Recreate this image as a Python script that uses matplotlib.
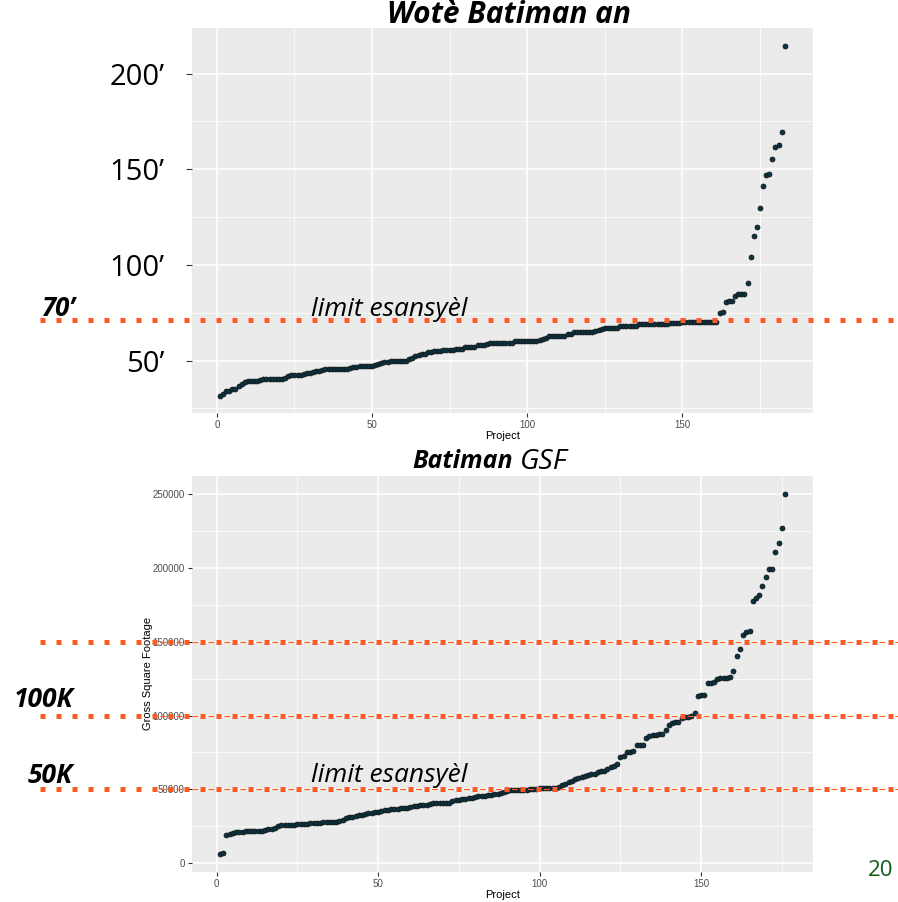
import matplotlib
matplotlib.use('Agg')
import matplotlib.pyplot as plt
import matplotlib.transforms as mtransforms
from matplotlib.ticker import MultipleLocator

plt.rcParams['lines.scale_dashes'] = False
plt.rcParams['font.family'] = ['Liberation Sans', 'DejaVu Sans']

# building height (feet), sorted, one per project
top_heights = [
    31.7, 32.5, 33.8, 34.2, 35.0, 35.3, 36.5, 37.8, 38.8, 39.4,
    39.4, 39.4, 39.4, 39.8, 40.3, 40.3, 40.3, 40.3, 40.3, 40.3,
    40.3, 41.0, 41.8, 42.5, 42.5, 42.5, 42.5, 43.0, 43.3, 43.7,
    44.0, 44.3, 44.7, 45.0, 45.3, 45.3, 45.3, 45.3, 45.3, 45.3,
    45.3, 45.3, 46.0, 46.5, 46.8, 47.3, 47.3, 47.3, 47.3, 47.3,
    47.8, 48.2, 48.8, 49.0, 49.2, 50.0, 50.0, 50.0, 50.0, 50.0,
    50.0, 50.7, 51.5, 52.2, 53.0, 53.5, 53.5, 54.2, 54.2, 55.2,
    55.2, 55.2, 55.5, 55.5, 55.5, 55.5, 56.2, 56.2, 56.2, 56.8,
    57.3, 57.3, 57.3, 58.0, 58.0, 58.0, 58.8, 59.4, 59.4, 59.4,
    59.4, 59.4, 59.4, 59.4, 59.4, 60.1, 60.1, 60.1, 60.1, 60.1,
    60.1, 60.1, 60.1, 60.7, 61.3, 62.0, 62.9, 62.9, 62.9, 62.9,
    62.9, 62.9, 63.8, 63.8, 64.8, 64.8, 64.8, 64.8, 64.8, 64.8,
    64.8, 65.5, 66.0, 66.5, 67.0, 67.0, 67.0, 67.0, 67.0, 68.1,
    68.1, 68.1, 68.1, 68.1, 68.1, 69.2, 69.2, 69.2, 69.2, 69.2,
    69.2, 69.2, 69.2, 69.2, 69.2, 69.7, 69.7, 69.7, 69.7, 70.1,
    70.1, 70.1, 70.1, 70.1, 70.1, 70.1, 70.1, 70.1, 70.1, 70.1,
    70.1, 74.8, 75.1, 80.5, 80.9, 81.1, 83.8, 84.9, 85.0, 85.0,
    90.6, 104.1, 114.9, 119.8, 129.9, 141.5, 146.8, 147.6, 155.6, 161.8,
    162.6, 169.5, 214.7]

# gross square footage, sorted, one per project
gsf = [
    6300, 6800, 18700, 19600, 20200, 20700, 21000, 21200, 21400, 21400,
    21400, 21400, 21400, 22000, 22500, 23000, 23300, 24000, 25000, 25600,
    26000, 26000, 26100, 26100, 26200, 26200, 26300, 26400, 26900, 27100,
    27200, 27300, 27500, 27600, 27700, 27900, 28000, 28200, 29300, 30500,
    30900, 31400, 31800, 32300, 32700, 33500, 33900, 34200, 34500, 34800,
    35200, 35800, 36100, 36300, 36500, 36800, 37000, 37200, 37400, 38000,
    38400, 38700, 39000, 39300, 39500, 40300, 40600, 40700, 40700, 40800,
    40900, 41000, 41800, 42600, 42900, 43200, 43500, 43800, 44000, 44600,
    45100, 45400, 45700, 46000, 46300, 46600, 46900, 47800, 48200, 48700,
    49200, 49300, 49400, 49500, 49700, 49800, 49900, 50000, 50400, 50600,
    50800, 50800, 50800, 50800, 50900, 51500, 53000, 53800, 54600, 55500,
    56900, 57500, 58300, 59300, 59800, 60300, 60600, 61500, 62100, 62300,
    63500, 64800, 66000, 67300, 71800, 72700, 75200, 75600, 76100, 79700,
    79700, 79900, 84700, 85800, 86500, 87000, 87400, 87600, 90300, 93700,
    94800, 95500, 95900, 98200, 98800, 99300, 100000, 102000, 112900, 113800,
    113800, 121900, 122200, 122400, 124900, 125300, 125300, 125500, 126000, 130500,
    140400, 145200, 154900, 156900, 157600, 177900, 179500, 181800, 187700, 194000,
    199200, 199600, 210700, 217200, 227000, 250200]

top_yticks = [50, 100, 150, 200]
top_ylabels = ['50’', '100’', '150’', '200’']
top_limits = [71.3]
top_limit_labels = ['70’']
gsf_limits = [50000, 100000, 150000]
gsf_limit_labels = ['50K', '100K', '']

ORANGE = '#FF5A2A'
POINT = '#0B3341'
OPEN = ['Open Sans', 'DejaVu Sans']

W, H = 898, 902
fig = plt.figure(figsize=(W / 100, H / 100), dpi=100)


def fx(px):
    return px / W


def fy(py):
    return 1 - py / H


def gg_style(ax, n, vals):
    ax.set_facecolor('#EBEBEB')
    for s in ax.spines.values():
        s.set_visible(False)
    ax.xaxis.set_major_locator(MultipleLocator(50))
    ax.xaxis.set_minor_locator(MultipleLocator(25))
    ax.grid(which='major', color='white', lw=1.1)
    ax.grid(which='minor', color='white', lw=0.55)
    ax.set_axisbelow(True)
    ax.tick_params(which='minor', length=0)
    ax.tick_params(which='major', length=3, width=0.8, color='#333333',
                   labelsize=7, labelcolor='#4D4D4D', pad=2)
    ax.set_xlim(1 - 0.05 * (n - 1), n + 0.05 * (n - 1))
    lo, hi = min(vals), max(vals)
    ax.set_ylim(lo - 0.05 * (hi - lo), hi + 0.05 * (hi - lo))
    ax.set_xlabel('Project', fontsize=8, labelpad=1)


# --- top panel: heights ---
ax1 = fig.add_axes([fx(191.7), fy(413), (813 - 191.7) / W, 385 / H])
x1 = list(range(1, len(top_heights) + 1))
gg_style(ax1, len(top_heights), top_heights)
ax1.yaxis.set_minor_locator(MultipleLocator(25))
ax1.set_yticks(top_yticks)
ax1.set_yticklabels(top_ylabels, fontsize=21, color='black', family=OPEN)
ax1.tick_params(axis='y', which='major', length=4, pad=15.5, labelcolor='black')
ax1.scatter(x1, top_heights, s=13, c=POINT, edgecolors='#111111', linewidths=0.5, zorder=3)

# --- bottom panel: GSF ---
ax2 = fig.add_axes([fx(191.7), fy(871.7), (813.3 - 191.7) / W, 395.7 / H])
x2 = list(range(1, len(gsf) + 1))
gg_style(ax2, len(gsf), gsf)
ax2.yaxis.set_major_locator(MultipleLocator(50000))
ax2.yaxis.set_minor_locator(MultipleLocator(25000))
ax2.set_ylabel('Gross Square Footage', fontsize=8, labelpad=-0.5)
ax2.scatter(x2, gsf, s=13, c=POINT, edgecolors='#111111', linewidths=0.5, zorder=3)

# slide overlay: dotted limit lines across the page
t1 = mtransforms.blended_transform_factory(fig.transFigure, ax1.transData)
for v in top_limits:
    ax1.plot([fx(40), 1.0], [v, v], transform=t1, color=ORANGE, lw=3.6,
             dashes=(3.6, 7.92), dash_capstyle='butt', clip_on=False, zorder=5)

t2 = mtransforms.blended_transform_factory(fig.transFigure, ax2.transData)
for v in gsf_limits:
    ax2.plot([fx(40), 1.0], [v, v], transform=t2, color=ORANGE, lw=3.6,
             dashes=(3.6, 7.92), dash_capstyle='butt', clip_on=False, zorder=5)
    ax2.plot([fx(159.5), 1.0], [v, v], transform=t2, color=ORANGE, lw=0.8,
             dashes=(4.3, 7.2), dash_capstyle='butt', clip_on=False, zorder=4)

# left labels for the limits
fig.text(fx(75), fy(316), top_limit_labels[0], ha='right', va='baseline',
         fontsize=18.5, fontweight='bold', style='italic', family=OPEN)
fig.text(fx(73), fy(707), gsf_limit_labels[1], ha='right', va='baseline',
         fontsize=19, fontweight='bold', style='italic', family=OPEN)
fig.text(fx(73), fy(783), gsf_limit_labels[0], ha='right', va='baseline',
         fontsize=19, fontweight='bold', style='italic', family=OPEN)

fig.text(fx(311), fy(315.5), 'limit esansyèl', ha='left', va='baseline',
         fontsize=19, style='italic', family=OPEN)
fig.text(fx(311), fy(781.5), 'limit esansyèl', ha='left', va='baseline',
         fontsize=19, style='italic', family=OPEN)

# titles
fig.text(fx(509), fy(15), 'Wotè Batiman an', ha='center', va='center',
         fontsize=21.5, fontweight='bold', style='italic', family=OPEN)
fig.text(fx(513), fy(462), 'Batiman', ha='right', va='center',
         fontsize=18, fontweight='bold', style='italic', family=OPEN)
fig.text(fx(520), fy(462), 'GSF', ha='left', va='center',
         fontsize=20.5, style='italic', family=OPEN)

# page number
fig.text(fx(893), fy(871), '20', ha='right', va='center', fontsize=16,
         color='#0F5C14', family=OPEN)

fig.savefig('out.png', dpi=100)
